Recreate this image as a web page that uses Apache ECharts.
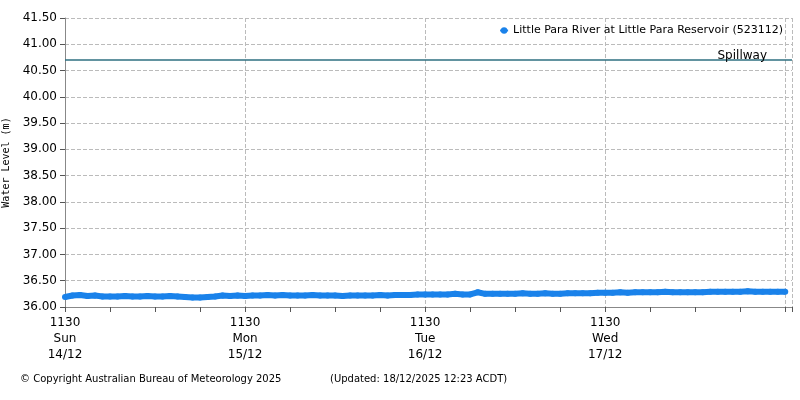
<!DOCTYPE html><html><head><meta charset="utf-8"><script src="https://cdn.jsdelivr.net/npm/echarts@6/dist/echarts.min.js"></script></head><body style="margin:0"><div id="c" style="width:800px;height:400px"></div><script>
const dayLabels=['1130\nSun\n14/12','1130\nMon\n15/12','1130\nTue\n16/12','1130\nWed\n17/12'];
const levels=[36.19,36.22,36.23,36.21,36.22,36.20,36.20,36.20,36.21,36.20,36.20,36.21,36.20,36.20,36.21,36.20,36.19,36.18,36.18,36.19,36.20,36.22,36.21,36.22,
36.21,36.22,36.22,36.23,36.22,36.23,36.22,36.22,36.22,36.23,36.22,36.22,36.22,36.21,36.22,36.22,36.22,36.22,36.23,36.22,36.23,36.23,36.23,36.24,
36.24,36.24,36.24,36.24,36.25,36.24,36.24,36.28,36.25,36.25,36.25,36.25,36.25,36.26,36.25,36.25,36.26,36.25,36.25,36.26,36.26,36.26,36.26,36.27,
36.27,36.27,36.28,36.27,36.28,36.28,36.28,36.28,36.29,36.28,36.28,36.28,36.28,36.28,36.29,36.29,36.29,36.29,36.29,36.30,36.29,36.29,36.29,36.29,36.29];
const spillway=40.70;
const data=levels.map((v,i)=>[i,v]);
const c=echarts.init(document.getElementById('c'));
const f='DejaVu Sans';
c.setOption({animation:false,textStyle:{fontFamily:f},
grid:{left:65,right:8,top:18,bottom:93,containLabel:false,outerBoundsMode:'none'},
legend:{right:12,top:20,itemWidth:8,itemHeight:8,itemGap:4,textStyle:{fontSize:11,color:'#000'},data:['Little Para River at Little Para Reservoir (523112)']},
xAxis:{type:'value',min:0,max:96.9,interval:24,axisLine:{lineStyle:{color:'#888'}},axisTick:{length:5,lineStyle:{color:'#555'}},
minorTick:{show:true,splitNumber:4,length:5,lineStyle:{color:'#555'}},
axisLabel:{color:'#000',fontSize:12,lineHeight:16,showMaxLabel:false,formatter:v=>dayLabels[v/24]||''},
splitLine:{lineStyle:{type:'dashed',color:'#bbb'}}},
yAxis:{type:'value',min:36,max:41.5,interval:0.5,name:'Water Level (m)',nameLocation:'middle',nameGap:48,nameTextStyle:{fontFamily:'DejaVu Sans Mono',fontSize:10,color:'#000'},
axisLine:{show:true,lineStyle:{color:'#888'}},axisTick:{show:true,length:5,lineStyle:{color:'#555'}},
axisLabel:{color:'#000',fontSize:12,formatter:v=>v.toFixed(2)},splitLine:{lineStyle:{type:'dashed',color:'#bbb'}}},
series:[{name:'Little Para River at Little Para Reservoir (523112)',type:'line',data:data,symbol:'circle',symbolSize:6,showSymbol:true,
itemStyle:{color:'#1a82ea'},lineStyle:{width:6,color:'#1a82ea'},
markLine:{silent:true,symbol:'none',data:[{yAxis:spillway}],lineStyle:{color:'#2e6f80',width:1.5,type:'solid'},
label:{position:'insideEndTop',formatter:'Spillway',color:'#000',fontSize:12,distance:[25,-2]}}}],
graphic:[{type:'text',left:20,top:374,style:{text:'© Copyright Australian Bureau of Meteorology 2025',font:'10px DejaVu Sans',fill:'#000'}},
{type:'text',left:330,top:374,style:{text:'(Updated: 18/12/2025 12:23 ACDT)',font:'10px DejaVu Sans',fill:'#000'}}]
});
</script></body></html>
